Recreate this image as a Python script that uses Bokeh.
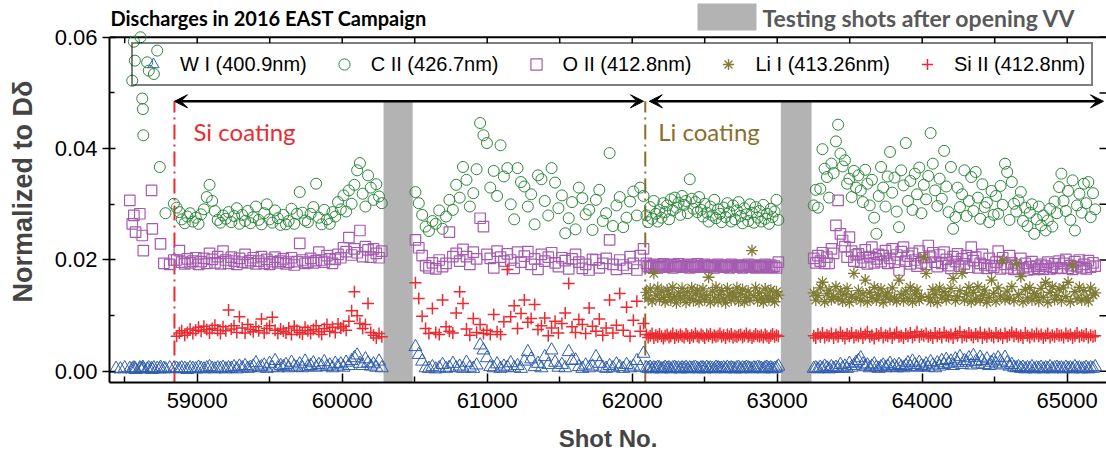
import numpy as np
from bokeh.plotting import figure
from bokeh.models import (ColumnDataSource, FixedTicker, PrintfTickFormatter,
                          Range1d, Legend, LegendItem, Label, Arrow, VeeHead)
from bokeh.embed import file_html
from bokeh.resources import INLINE

na = float("nan")
UNIT = 1e-3  # values below are written in units of 1e-3

# ---------------- data ----------------
# segment A: before Si coating
shots_a = [58440, 58470, 58500, 58535, 58552, 58563, 58570, 58575, 58604, 58609, 58621, 58625, 58628,
           58655, 58666, 58685, 58690, 58701, 58724, 58742, 58747, 58770, 58781, 58810, 58839]
c_a = [na, na, na, na, 52.2, 59.2, 55.8, na, na, 60.0, 49.0, 47.1, 42.4,
       55.5, 54.0, na, na, 53.4, 57.6, 36.7, na, na, 28.4, na, 30.1]
o_a = [na, na, na, 30.7, 26.5, 28.0, na, 25.0, 28.3, na, 24.4, na, 21.7,
       na, na, 32.5, 25.6, na, na, na, 22.9, 19.4, na, 19.2, 20.0]
w_a = [0.5, 0.4, 0.6, 0.5, 0.4, 0.6, 0.5, 0.3, 0.6, 0.5, 0.4, 0.7, 0.5,
       0.4, 0.6, 0.5, 0.3, 0.6, 0.5, 0.4, 0.7, 0.5, 0.4, 0.6, 0.5]

# segment B: Si coating, before first vent
shots_b = [58858, 58877, 58893, 58914, 58932, 58951, 58970, 58990, 59009,
           59027, 59046, 59066, 59085, 59103, 59122, 59141, 59160, 59178, 59197,
           59216, 59235, 59254, 59273, 59291, 59310, 59330, 59349, 59367, 59386,
           59405, 59424, 59443, 59462, 59480, 59499, 59518, 59537, 59556, 59575,
           59594, 59612, 59631, 59650, 59669, 59688, 59707, 59726, 59744, 59763,
           59782, 59801, 59820, 59839, 59858, 59876, 59895, 59914, 59933, 59952,
           59971, 59990, 60009, 60027, 60046, 60065, 60084, 60103, 60122, 60141,
           60160, 60178, 60197, 60216, 60235, 60254, 60273]
c_b = [29.4, 28.6, 27.3, 26.6, 27.8, 28.4, 26.9, 27.6, 26.5,
       28.2, 29.1, 31.3, 33.5, 30.6, 28.8, 27.2, 26.7, 28.0, 27.4,
       28.6, 26.8, 27.9, 29.3, 26.5, 28.1, 27.0, 28.8, 26.6, 27.7,
       29.6, 27.2, 26.4, 28.4, 30.0, 27.3, 26.7, 28.9, 27.5, 26.3,
       28.1, 26.4, 27.0, 29.2, 26.5, 28.3, 32.2, 28.5, 27.1, 26.8,
       28.3, 29.5, 33.7, 27.6, 26.4, 29.0, 27.3, 26.5, 28.6, 27.8,
       30.4, 29.1, 31.6, 28.7, 32.5, 30.1, 33.5, 36.1, 37.4, 31.9,
       29.6, 35.2, 33.0, 30.8, 33.6, 31.4, 30.2]
o_b = [20.0, 21.7, 19.6, 19.3, 20.2, 19.5, 19.8, 20.4, 19.2,
       19.7, 20.3, 19.4, 21.2, 20.1, 19.5, 20.6, 19.3, 21.6, 20.0,
       19.4, 20.5, 19.8, 19.2, 20.3, 19.6, 21.0, 19.5, 19.9, 20.4,
       19.3, 19.8, 20.6, 19.4, 20.1, 19.2, 19.7, 20.5, 19.5, 19.8,
       20.2, 19.3, 19.6, 20.4, 19.1, 19.7, 23.0, 20.0, 19.4, 19.6,
       20.3, 19.5, 19.9, 21.4, 20.0, 19.6, 20.8, 20.2, 19.4, 20.1,
       21.0, 20.4, 22.2, 21.5, 24.0, 20.9, 22.0, 21.3, 25.3, 20.6,
       22.4, 21.8, 20.5, 22.0, 21.2, 20.4, 21.6]
si_b = [6.3, 6.9, 7.3, 6.5, 7.0, 7.6, 6.8, 7.4, 7.9,
        7.2, 8.1, 7.5, 6.9, 7.7, 8.3, 7.4, 6.8, 8.0, 7.3,
        11.0, 7.6, 8.2, 7.0, 9.8, 7.8, 6.9, 8.4, 7.5, 7.1,
        8.0, 7.3, 9.4, 6.9, 7.7, 8.2, 9.7, 7.4, 6.8, 7.6,
        7.2, 6.9, 7.8, 6.6, 8.1, 7.4, 7.0, 6.7, 7.9, 7.3,
        6.8, 7.5, 8.2, 7.1, 6.6, 7.7, 8.4, 7.2, 7.9, 7.0,
        8.5, 7.8, 8.1, 7.4, 9.0, 10.9, 14.3, 10.0, 8.6, 7.7,
        8.4, 12.2, 7.0, 6.5, 6.0, 6.8, 6.2]
w_b = [0.5, 0.4, 0.6, 0.5, 0.3, 0.6, 0.5, 0.4, 0.7,
       0.5, 0.4, 0.6, 0.8, 0.5, 0.4, 0.6, 0.5, 0.7, 0.4,
       0.6, 0.5, 0.8, 0.4, 0.9, 0.6, 1.0, 0.5, 0.7, 0.9,
       1.5, 0.6, 0.8, 1.1, 0.5, 1.4, 0.7, 1.9, 0.6, 1.0,
       0.8, 1.2, 0.6, 1.6, 0.9, 0.7, 1.3, 0.6, 1.8, 0.8,
       1.0, 1.5, 0.7, 1.2, 0.9, 1.7, 0.8, 1.1, 0.6, 1.4,
       0.9, 1.3, 0.7, 1.6, 1.0, 1.9, 2.4, 2.9, 1.4, 1.0,
       2.2, 1.5, 0.9, 1.3, 0.7, 1.8, 0.6]

# segment C: Si coating, after first vent
shots_c = [60505, 60528, 60551, 60575, 60598, 60622, 60645, 60669, 60692, 60716,
           60739, 60763, 60786, 60810, 60833, 60857, 60880, 60904, 60927, 60951,
           60974, 60998, 61021, 61045, 61068, 61092, 61115, 61139, 61162, 61186,
           61209, 61233, 61256, 61280, 61303, 61327, 61350, 61374, 61397, 61421,
           61444, 61468, 61491, 61515, 61538, 61562, 61585, 61609, 61632, 61656,
           61679, 61703, 61726, 61750, 61773, 61797, 61820, 61844, 61867, 61891,
           61914, 61938, 61961, 61985, 62008, 62032, 62055, 62078]
c_c = [32.2, 30.2, 28.1, 26.0, 25.2, 27.0, 26.5, 28.9, 25.6, 27.8,
       30.8, 29.0, 33.5, 31.2, 36.7, 34.4, 29.6, 32.0, 36.3, 44.6,
       42.4, 41.0, 33.0, 36.0, 31.5, 40.6, 35.0, 36.5, 30.0, 27.3,
       36.5, 34.0, 33.2, 29.6, 31.8, 26.4, 35.2, 34.5, 30.6, 28.0,
       36.5, 33.9, 29.3, 31.6, 24.8, 27.5, 30.4, 25.5, 33.0, 31.1,
       28.2, 29.0, 25.4, 30.8, 32.6, 27.0, 28.4, 39.2, 26.1, 29.8,
       31.3, 25.9, 27.6, 30.5, 32.3, 28.0, 33.0, 31.5]
o_c = [23.6, 22.2, 20.8, 19.0, 18.6, 19.5, 18.4, 20.0, 18.8, 19.4,
       25.0, 20.6, 21.2, 19.8, 21.9, 20.6, 19.2, 21.4, 20.2, 27.5,
       26.0, 21.0, 20.3, 18.6, 21.6, 20.5, 19.8, 21.1, 20.0, 18.5,
       21.4, 19.6, 20.7, 21.5, 19.2, 20.2, 18.3, 21.0, 19.8, 20.5,
       21.3, 19.5, 18.8, 20.4, 19.9, 18.4, 20.2, 21.0, 19.6, 18.5,
       19.2, 18.2, 20.1, 20.0, 18.6, 19.4, 20.3, 23.6, 19.2, 18.3,
       20.0, 19.1, 18.5, 20.6, 19.4, 18.2, 20.8, 22.0]
si_c = [15.9, 13.1, 9.9, 7.7, 6.8, 11.3, 7.0, 6.6, 12.8, 8.0,
        7.2, 6.9, 10.5, 14.3, 12.2, 7.6, 6.5, 9.5, 7.0, 8.4,
        6.8, 7.4, 6.6, 10.2, 7.1, 6.6, 8.9, 18.3, 9.8, 11.8,
        7.7, 10.4, 12.8, 8.8, 9.5, 12.0, 7.5, 8.2, 9.6, 6.4,
        7.8, 9.0, 6.9, 8.6, 10.5, 15.8, 8.0, 7.0, 9.3, 8.4,
        6.8, 11.4, 8.1, 7.2, 9.4, 6.5, 7.8, 12.8, 6.9, 8.3,
        14.0, 7.4, 11.5, 6.3, 9.2, 12.6, 7.2, 8.6]
w_c = [4.4, 3.0, 1.8, 0.6, 0.5, 0.8, 0.4, 0.6, 1.2, 0.5,
       0.7, 1.4, 0.6, 0.9, 0.5, 1.6, 0.7, 0.5, 1.1, 4.7,
       3.8, 2.4, 0.8, 0.6, 1.3, 0.5, 0.9, 0.7, 1.5, 0.6,
       1.0, 0.5, 1.8, 3.5, 2.2, 0.8, 1.4, 0.6, 2.6, 1.2,
       3.8, 1.6, 0.7, 1.2, 0.6, 3.5, 1.9, 2.0, 0.8, 0.5,
       1.1, 0.6, 0.9, 2.6, 1.4, 0.7, 0.5, 1.0, 0.6, 1.3,
       0.8, 0.5, 1.2, 0.6, 0.9, 1.9, 0.7, 3.2]

# segment D: Li coating, before second vent
shots_d = [62098, 62110, 62124, 62137, 62149, 62163, 62176, 62188, 62202, 62215,
           62227, 62241, 62254, 62266, 62280, 62293, 62305, 62319, 62332, 62344,
           62358, 62371, 62383, 62397, 62410, 62422, 62436, 62449, 62461, 62475,
           62488, 62500, 62514, 62527, 62539, 62553, 62566, 62578, 62592, 62605,
           62617, 62631, 62644, 62656, 62670, 62683, 62695, 62709, 62722, 62734,
           62748, 62761, 62773, 62787, 62800, 62812, 62826, 62839, 62851, 62865,
           62878, 62890, 62904, 62917, 62929, 62943, 62956, 62968, 62982, 62995, 63008]
c_d = [28.0, 26.8, 29.5, 27.4, 30.6, 28.3, 26.9, 29.0, 27.6, 30.2,
       28.6, 29.8, 27.3, 30.9, 28.9, 31.2, 29.4, 30.3, 28.1, 31.5,
       29.9, 30.6, 28.4, 34.5, 31.0, 29.2, 30.4, 28.6, 31.3, 29.0,
       27.8, 30.1, 28.5, 26.9, 29.6, 28.0, 30.8, 27.5, 29.1, 28.3,
       26.8, 29.4, 27.7, 30.2, 28.6, 26.9, 29.8, 27.3, 28.9, 30.4,
       27.9, 26.6, 29.3, 28.2, 27.0, 30.0, 28.5, 26.7, 29.5, 27.6,
       28.8, 26.9, 29.9, 27.4, 28.3, 26.5, 29.2, 27.7, 28.7, 30.8, 27.2]
o_d = [19.4, 18.8, 19.0, 18.7, 19.2, 18.9, 18.6, 19.1, 18.8, 19.3,
       18.7, 19.0, 18.9, 19.2, 18.6, 19.1, 18.8, 19.3, 18.9, 18.7,
       19.0, 18.8, 19.2, 18.6, 19.1, 18.9, 18.7, 19.3, 18.8, 19.0,
       18.9, 19.2, 18.7, 19.0, 18.8, 19.1, 18.6, 18.9, 19.2, 18.8,
       19.0, 18.7, 19.1, 18.9, 18.6, 19.2, 18.8, 19.0, 18.7, 19.1,
       18.9, 18.6, 19.0, 18.8, 19.2, 18.7, 18.9, 19.1, 18.6, 18.8,
       19.0, 18.7, 18.9, 19.2, 18.6, 18.8, 19.1, 18.7, 18.9, 18.6, 19.6]
li_d = [14.2, 13.1, 14.8, 12.6, 17.6, 13.7, 15.0, 12.9, 14.4, 13.3,
        12.5, 14.6, 13.8, 12.8, 15.1, 13.4, 12.3, 14.1, 13.0, 14.9,
        13.6, 12.4, 14.3, 13.1, 15.0, 12.7, 13.9, 14.6, 12.5, 13.5,
        14.8, 12.9, 13.6, 16.9, 12.4, 14.4, 13.2, 15.1, 12.6, 13.8,
        14.5, 13.0, 12.3, 14.9, 13.7, 12.8, 14.2, 13.4, 15.0, 12.6,
        13.9, 14.7, 12.5, 13.3, 14.4, 12.8, 21.7, 13.6, 15.0, 12.7,
        14.1, 13.2, 12.4, 14.8, 13.5, 12.9, 14.6, 13.1, 12.5, 14.3, 13.7]
si_d = [6.6, 6.1, 6.4, 6.8, 6.0, 6.5, 6.2, 6.7, 6.3, 5.9,
        6.4, 6.6, 6.1, 6.3, 6.8, 6.0, 6.5, 6.2, 6.6, 6.3,
        6.1, 6.7, 6.4, 6.0, 6.5, 6.2, 6.8, 6.3, 6.1, 6.6,
        6.4, 6.0, 6.6, 6.3, 6.7, 6.1, 6.5, 6.2, 6.4, 6.8,
        6.2, 6.5, 6.0, 6.6, 6.3, 6.7, 6.1, 6.4, 6.2, 6.5,
        6.6, 6.1, 6.4, 6.8, 6.2, 6.5, 6.0, 6.3, 6.7, 6.4,
        6.2, 6.5, 6.1, 6.6, 6.3, 6.0, 6.4, 6.7, 6.2, 6.5, 6.3]
w_d = [0.6, 0.5, 0.7, 0.4, 0.6, 0.5, 0.7, 0.6, 0.4, 0.5,
       0.7, 0.5, 0.6, 0.4, 0.6, 0.7, 0.5, 0.6, 0.4, 0.6,
       0.5, 0.7, 0.4, 0.6, 0.5, 0.6, 0.7, 0.5, 0.4, 0.6,
       0.6, 0.4, 0.7, 0.5, 0.6, 0.5, 0.4, 0.7, 0.6, 0.5,
       0.5, 0.6, 0.4, 0.7, 0.5, 0.6, 0.5, 0.4, 0.6, 0.7,
       0.4, 0.6, 0.5, 0.7, 0.6, 0.5, 0.4, 0.6, 0.5, 0.7,
       0.6, 0.5, 0.4, 0.6, 0.7, 0.5, 0.6, 0.4, 0.5, 0.6, 0.9]

# segment E: Li coating, after second vent
shots_e = [63252, 63266, 63281, 63297, 63312, 63327, 63343, 63358, 63374, 63389,
           63405, 63420, 63436, 63451, 63467, 63482, 63498, 63513, 63529, 63544,
           63560, 63576, 63591, 63607, 63622, 63638, 63653, 63669, 63684, 63700,
           63716, 63731, 63747, 63762, 63778, 63793, 63809, 63824, 63840, 63855,
           63871, 63887, 63902, 63918, 63933, 63949, 63964, 63980, 63995, 64011,
           64027, 64042, 64058, 64073, 64089, 64104, 64120, 64135, 64151, 64166,
           64182, 64198, 64213, 64229, 64244, 64260, 64275, 64291, 64306, 64322,
           64338, 64353, 64369, 64384, 64400, 64415, 64431, 64446, 64462, 64478,
           64493, 64509, 64524, 64540, 64555, 64571, 64586, 64602, 64618, 64633,
           64649, 64664, 64680, 64695, 64711, 64726, 64742, 64757, 64773, 64789,
           64804, 64820, 64835, 64851, 64866, 64882, 64897, 64913, 64929, 64944,
           64960, 64975, 64991, 65006, 65022, 65037, 65053, 65068, 65084, 65100,
           65115, 65131, 65146, 65162, 65178, 65193]
c_e = [29.8, 32.6, 29.4, 32.8, 39.9, 36.4, 34.9, 31.2, 37.3, 35.6,
       41.3, 44.3, 39.1, 36.8, 37.9, 33.7, 34.6, 31.3, 36.0, 33.0,
       35.2, 32.5, 30.4, 36.2, 33.7, 29.8, 34.4, 27.6, 24.7, 31.5,
       36.7, 33.0, 29.6, 35.0, 39.4, 32.1, 34.8, 28.7, 25.9, 36.1,
       33.4, 41.0, 30.6, 34.2, 29.0, 35.5, 31.8, 36.6, 28.4, 33.5,
       30.9, 35.1, 42.8, 37.3, 32.5, 29.7, 34.6, 31.0, 39.6, 33.2,
       28.6, 36.7, 25.6, 27.7, 33.0, 29.5, 31.8, 36.1, 27.9, 30.6,
       34.9, 28.8, 35.8, 31.2, 27.4, 33.6, 29.5, 30.3, 26.8, 32.4,
       28.1, 31.5, 28.3, 33.3, 29.9, 37.3, 35.8, 27.2, 34.0, 30.1,
       28.7, 30.7, 32.2, 27.0, 29.4, 26.1, 28.5, 30.0, 24.7, 27.3,
       29.6, 26.2, 28.0, 25.3, 27.1, 29.2, 26.0, 30.5, 28.4, 33.1,
       35.5, 30.6, 28.8, 32.4, 27.2, 34.3, 25.3, 29.8, 31.9, 28.5,
       33.7, 30.2, 34.0, 27.7, 32.0, 29.1]
o_e = [20.3, 19.5, 20.8, 19.8, 21.3, 19.4, 20.5, 19.4, 22.0, 21.2,
       26.2, 30.7, 24.7, 23.5, 22.4, 20.5, 24.1, 21.6, 19.8, 20.9,
       21.1, 19.6, 20.4, 21.8, 19.3, 20.6, 22.3, 19.5, 20.2, 21.0,
       19.7, 20.8, 21.7, 19.4, 20.3, 22.0, 19.6, 20.9, 18.2, 21.5,
       22.3, 19.8, 20.7, 19.3, 21.2, 20.0, 18.9, 21.6, 19.5, 20.4,
       19.2, 22.6, 20.5, 21.3, 19.6, 18.8, 20.9, 19.4, 21.4, 20.1,
       19.0, 18.5, 20.6, 19.7, 21.1, 18.9, 20.2, 19.3, 20.8, 18.7,
       22.3, 19.9, 20.5, 18.6, 19.4, 21.0, 19.1, 18.5, 20.3, 19.0,
       18.7, 19.6, 21.6, 18.4, 20.4, 19.2, 18.6, 20.8, 19.5, 18.3,
       19.1, 18.4, 20.3, 18.6, 19.4, 18.2, 18.8, 19.7, 18.3, 18.9,
       18.5, 19.2, 18.3, 18.9, 19.6, 18.4, 18.7, 19.3, 18.5, 19.8,
       18.6, 19.4, 20.1, 18.5, 19.0, 18.3, 19.7, 18.8, 20.0, 18.6,
       19.2, 18.4, 19.9, 18.7, 19.5, 18.9]
li_e = [14.1, 12.8, 13.6, 15.0, 16.0, 12.5, 13.9, 14.6, 12.9, 13.4,
        15.2, 13.0, 14.4, 12.6, 13.8, 14.9, 12.4, 13.5, 17.6, 13.1,
        14.5, 12.7, 13.9, 16.4, 12.5, 14.2, 13.3, 15.1, 12.8, 13.7,
        14.8, 12.4, 13.5, 14.1, 12.9, 15.0, 13.2, 12.6, 16.4, 13.8,
        12.7, 14.4, 13.1, 15.1, 12.5, 13.9, 14.6, 12.8, 13.4, 20.5,
        17.6, 13.3, 12.6, 14.7, 13.8, 12.4, 15.0, 13.2, 14.3, 12.9,
        13.6, 14.9, 16.7, 12.7, 13.4, 14.5, 17.6, 12.8, 13.9, 15.1,
        12.5, 14.2, 13.0, 15.2, 12.8, 13.7, 14.6, 12.4, 13.3, 16.4,
        14.0, 12.6, 15.0, 13.5, 19.9, 12.9, 14.4, 13.1, 15.2, 12.7,
        19.3, 13.8, 17.0, 12.5, 14.7, 13.2, 15.1, 12.8, 14.0, 13.5,
        12.6, 14.9, 13.3, 16.0, 12.4, 14.2, 15.2, 12.9, 13.6, 14.8,
        12.7, 15.0, 13.4, 16.0, 12.5, 19.0, 14.3, 13.0, 15.1, 12.8,
        14.5, 13.2, 12.6, 15.0, 13.7, 14.1]
si_e = [6.4, 6.0, 6.7, 6.2, 6.9, 6.1, 6.5, 6.3, 6.8, 6.0,
        6.6, 6.2, 7.0, 6.4, 5.9, 6.7, 6.3, 6.9, 6.1, 6.5,
        6.3, 6.8, 6.0, 6.6, 7.1, 6.2, 6.5, 5.9, 6.7, 6.4,
        6.9, 6.1, 6.5, 6.3, 6.8, 6.0, 6.6, 7.0, 6.2, 6.4,
        6.0, 6.7, 6.3, 6.9, 6.1, 6.5, 7.1, 6.2, 6.6, 6.4,
        6.8, 6.2, 6.5, 6.0, 6.9, 6.3, 6.7, 6.1, 7.0, 6.4,
        6.2, 6.6, 6.0, 6.8, 6.4, 7.1, 6.1, 6.5, 6.3, 6.9,
        6.5, 6.1, 6.7, 6.3, 7.0, 6.0, 6.6, 6.2, 6.8, 6.4,
        6.1, 6.9, 6.3, 6.6, 6.0, 6.8, 6.2, 6.5, 7.0, 6.3,
        6.7, 6.2, 6.5, 6.0, 6.9, 6.4, 6.1, 6.6, 6.3, 6.8,
        6.3, 6.6, 6.0, 6.4, 6.8, 6.1, 6.5, 6.2, 6.7, 6.4,
        6.5, 6.1, 6.8, 6.3, 6.6, 6.0, 6.4, 6.9, 6.2, 6.5,
        6.3, 6.7, 6.1, 6.5, 6.2, 6.4]
w_e = [0.5, 0.6, 0.4, 0.7, 0.5, 0.9, 0.6, 0.4, 0.8, 0.5,
       0.7, 0.5, 1.2, 0.6, 0.9, 0.5, 1.4, 0.7, 1.0, 1.6,
       1.9, 2.4, 1.3, 0.8, 1.1, 0.6, 0.9, 1.3, 0.7, 0.5,
       0.8, 1.1, 0.6, 0.9, 1.4, 0.7, 1.0, 0.6, 1.2, 0.8,
       0.6, 1.0, 1.5, 0.8, 1.8, 1.2, 0.7, 1.6, 1.0, 0.8,
       1.3, 0.7, 1.7, 1.1, 0.6, 1.5, 0.9, 1.9, 1.2, 2.1,
       1.4, 1.8, 1.0, 2.2, 1.5, 2.6, 1.2, 1.9, 1.6, 2.4,
       1.1, 2.8, 1.7, 1.3, 2.5, 1.9, 1.2, 2.2, 1.0, 1.6,
       2.0, 1.3, 2.4, 1.8, 1.1, 2.5, 1.5, 0.9, 1.2, 0.7,
       0.6, 0.8, 0.5, 0.7, 0.4, 0.6, 0.5, 0.8, 0.4, 0.6,
       0.5, 0.7, 0.4, 0.6, 0.5, 0.8, 0.4, 0.6, 0.7, 0.5,
       0.6, 0.4, 0.7, 0.5, 0.6, 0.4, 0.8, 0.5, 0.6, 0.4,
       0.5, 0.7, 0.4, 0.6, 0.5, 0.8]

# events / annotations
SI_COATING_SHOT = 58843
LI_COATING_SHOT = 62090
VENT_LEFT = [60285, 63025]
VENT_RIGHT = [60486, 63237]
ARROW_Y = 0.0485
ARROW1_END = 62078
ARROW2_START = 62118
ARROW2_END = 65250

X_TICKS = [59000, 60000, 61000, 62000, 63000, 64000, 65000]
X_MINOR = [58500, 59500, 60500, 61500, 62500, 63500, 64500]
Y_TICKS = [0.0, 0.02, 0.04, 0.06]
Y_MINOR = [0.01, 0.03, 0.05]

TITLE = "Discharges in 2016 EAST Campaign"
VENT_LABEL = "Testing shots after opening VV"
LABELS = ["W I (400.9nm)", "C II (426.7nm)", "O II (412.8nm)", "Li I (413.26nm)", "Si II (412.8nm)"]

W_COLOR = "#2F5DAD"
C_COLOR = "#2E873C"
O_COLOR = "#A55CB0"
LI_COLOR = "#7F7B35"
SI_COLOR = "#EC2A2F"
LIC_COLOR = "#8C6D2C"
BAND_COLOR = "#B3B3B3"

# ---------------- assemble ----------------
def arr(*parts):
    return np.concatenate([np.asarray(p, dtype=float) for p in parts])

x_all = arr(shots_a, shots_b, shots_c, shots_d, shots_e)
src_w = ColumnDataSource(dict(x=x_all, y=arr(w_a, w_b, w_c, w_d, w_e) * UNIT))
src_c = ColumnDataSource(dict(x=x_all, y=arr(c_a, c_b, c_c, c_d, c_e) * UNIT))
src_o = ColumnDataSource(dict(x=x_all, y=arr(o_a, o_b, o_c, o_d, o_e) * UNIT))
src_li = ColumnDataSource(dict(x=arr(shots_d, shots_e), y=arr(li_d, li_e) * UNIT))
src_si = ColumnDataSource(dict(x=arr(shots_b, shots_c, shots_d, shots_e), y=arr(si_b, si_c, si_d, si_e) * UNIT))

# ---------------- figure geometry ----------------
W, H = 1106, 461
LEFT_PX, BOTTOM_PX = 109, 79           # borders; frame runs up to the canvas top and right edge
FRAME_H = H - BOTTOM_PX
X_START, X_END = 58395, 65271
Y_START, Y_BOX_TOP, Y_END = -0.002, 0.06, 0.0666   # plot box is -0.002..0.06; header above it

PX_X = (W - LEFT_PX) / (X_END - X_START)
PX_Y = FRAME_H / (Y_END - Y_START)

def sx(px):   # canvas pixel -> data x (for header decorations)
    return X_START + (px - LEFT_PX) / PX_X

def sy(py):   # canvas pixel -> data y
    return Y_END - py / PX_Y

p = figure(width=W, height=H, x_range=Range1d(X_START, X_END), y_range=Range1d(Y_START, Y_END),
           output_backend="svg", toolbar_location=None, title=None,
           min_border_left=LEFT_PX, min_border_right=0, min_border_top=0, min_border_bottom=BOTTOM_PX)
p.outline_line_color = None
p.xgrid.visible = False
p.ygrid.visible = False
p.background_fill_color = "white"

TICK_FONT = "Liberation Sans"

xa = p.xaxis[0]
xa.ticker = FixedTicker(ticks=X_TICKS, minor_ticks=X_MINOR)
xa.major_tick_in = 9
xa.major_tick_out = 0
xa.minor_tick_in = 6
xa.minor_tick_out = 0
xa.axis_line_width = 2
xa.major_tick_line_width = 1.5
xa.minor_tick_line_width = 1.5
xa.major_label_text_font = TICK_FONT
xa.major_label_text_font_size = "22px"
xa.major_label_text_color = "black"
xa.major_label_standoff = 10
xa.axis_label = "Shot No."
xa.axis_label_text_font = TICK_FONT
xa.axis_label_text_font_style = "bold"
xa.axis_label_text_font_size = "24px"
xa.axis_label_standoff = 14

ya = p.yaxis[0]
ya.bounds = (Y_START, Y_BOX_TOP)
ya.ticker = FixedTicker(ticks=Y_TICKS, minor_ticks=Y_MINOR)
ya.formatter = PrintfTickFormatter(format="%.2f")
ya.major_tick_in = 6
ya.major_tick_out = 7
ya.minor_tick_in = 5
ya.minor_tick_out = 0
ya.axis_line_width = 2
ya.major_tick_line_width = 1.5
ya.minor_tick_line_width = 1.5
ya.major_label_text_font = TICK_FONT
ya.major_label_text_font_size = "22px"
ya.major_label_text_color = "black"
ya.major_label_standoff = 5
ya.axis_label = "Normalized to D\u03b4"
ya.axis_label_text_font = TICK_FONT
ya.axis_label_text_font_style = "bold"
ya.axis_label_text_font_size = "27px"
ya.axis_label_standoff = 14

# top edge of the plot box with inward ticks, and inward ticks on the right edge
TOP_TICKS = sorted(X_TICKS + X_MINOR)
TICK_LEN_Y = 6 / PX_Y
p.segment(x0=[X_START], y0=[Y_BOX_TOP], x1=[X_END], y1=[Y_BOX_TOP], line_color="black", line_width=2)
p.segment(x0=TOP_TICKS, y0=[Y_BOX_TOP] * len(TOP_TICKS), x1=TOP_TICKS,
          y1=[Y_BOX_TOP - TICK_LEN_Y] * len(TOP_TICKS), line_color="black", line_width=1.5)
RIGHT_TICKS = sorted(Y_TICKS + Y_MINOR)
p.segment(x0=[X_END - 7 / PX_X] * len(RIGHT_TICKS), y0=RIGHT_TICKS, x1=[X_END] * len(RIGHT_TICKS),
          y1=RIGHT_TICKS, line_color="black", line_width=1.5)

# vent bands
bands = p.quad(left=VENT_LEFT, right=VENT_RIGHT, bottom=[Y_START, Y_START], top=[ARROW_Y, ARROW_Y],
               fill_color=BAND_COLOR, line_color=None)

# coating lines
p.segment(x0=[SI_COATING_SHOT], y0=[Y_START], x1=[SI_COATING_SHOT], y1=[ARROW_Y],
          line_color=SI_COLOR, line_width=2, line_dash="15 5 2 5")
p.segment(x0=[LI_COATING_SHOT], y0=[Y_START], x1=[LI_COATING_SHOT], y1=[ARROW_Y],
          line_color=LIC_COLOR, line_width=2, line_dash="15 5 2 5")

# data
rw = p.scatter("x", "y", source=src_w, marker="triangle", size=13, line_color=W_COLOR,
               fill_color=None, line_width=1)
rc = p.scatter("x", "y", source=src_c, marker="circle", size=11, line_color=C_COLOR,
               fill_color=None, line_width=1)
ro = p.scatter("x", "y", source=src_o, marker="square", size=10.5, line_color=O_COLOR,
               fill_color=None, line_width=1.2)
rli = p.scatter("x", "y", source=src_li, marker="asterisk", size=12, line_color=LI_COLOR,
                fill_color=None, line_width=1.3)
rsi = p.scatter("x", "y", source=src_si, marker="cross", size=12, line_color=SI_COLOR,
                fill_color=None, line_width=1.5)

# arrows
for xs, xe in [(SI_COATING_SHOT, ARROW1_END), (ARROW2_START, ARROW2_END)]:
    p.add_layout(Arrow(x_start=xs, x_end=xe, y_start=ARROW_Y, y_end=ARROW_Y, line_width=2.5,
                       line_color="black",
                       start=VeeHead(size=13, fill_color="black", line_color="black", line_width=1),
                       end=VeeHead(size=13, fill_color="black", line_color="black", line_width=1)))

# coating texts
p.add_layout(Label(x=SI_COATING_SHOT, y=0.043, x_offset=19, text="Si coating", text_color=SI_COLOR,
                   text_font="Lato", text_font_size="24px", text_baseline="alphabetic"))
p.add_layout(Label(x=LI_COATING_SHOT, y=0.043, x_offset=13, text="Li coating", text_color=LIC_COLOR,
                   text_font="Lato", text_font_size="24px", text_baseline="alphabetic"))

# header: title and key for the grey bands
p.add_layout(Label(x=sx(110), y=sy(17), text=TITLE, text_color="black", text_font="Lato",
                   text_font_style="bold", text_font_size="20px", text_baseline="middle"))
p.quad(left=[sx(697)], right=[sx(756)], top=[sy(3)], bottom=[sy(30)], fill_color=BAND_COLOR, line_color=None)
p.add_layout(Label(x=sx(762), y=sy(17), text=VENT_LABEL, text_color="#595959", text_font="Lato",
                   text_font_style="bold", text_font_size="23px", text_baseline="middle"))

# legend
items = [LegendItem(label=lab, renderers=[r]) for lab, r in zip(LABELS, [rw, rc, ro, rli, rsi])]
legend = Legend(items=items, orientation="horizontal", location=(22, 296),
                label_text_font=TICK_FONT, label_text_font_size="20px", label_text_color="black",
                glyph_width=28, glyph_height=28, label_standoff=13, spacing=23, padding=6,
                border_line_color="black", border_line_width=2, background_fill_alpha=0, margin=0)
p.add_layout(legend)

open("out.html", "w").write(file_html(p, INLINE))
